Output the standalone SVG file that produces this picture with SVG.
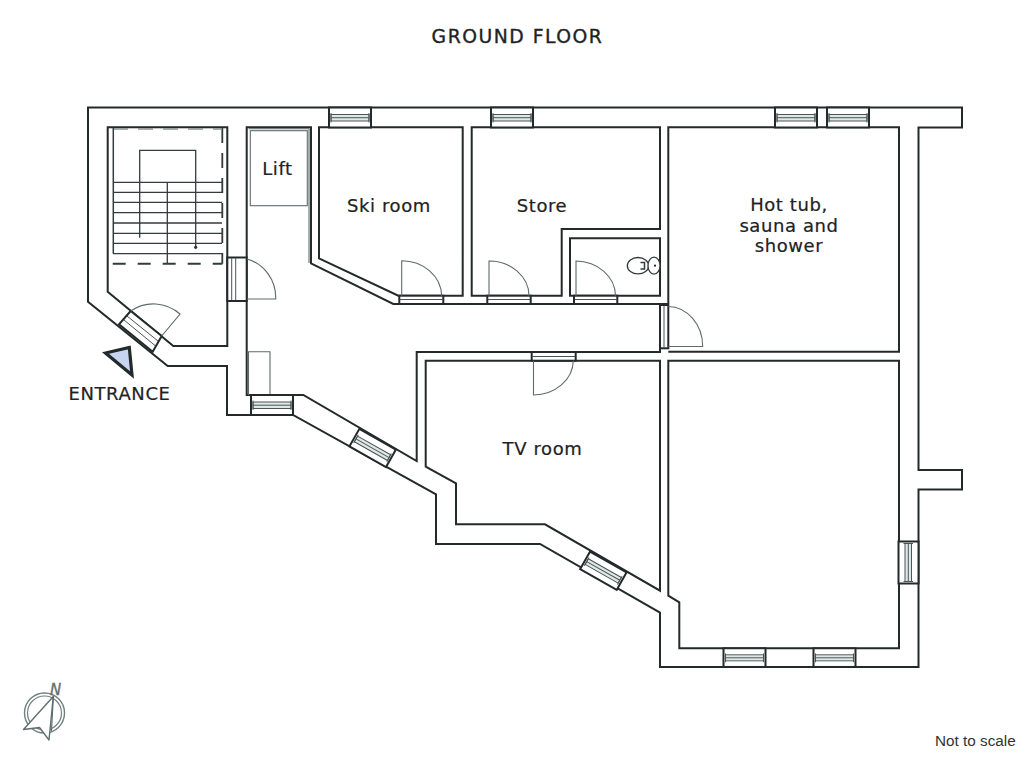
<svg xmlns="http://www.w3.org/2000/svg" width="1030" height="771" viewBox="0 0 1030 771">
<style>
.w{fill:none;stroke:#222a2a;stroke-width:2;stroke-linejoin:miter}
.t{fill:none;stroke:#5f6b6b;stroke-width:1.1}
.s{fill:none;stroke:#333c3c;stroke-width:1.3}
.l{font-family:"DejaVu Sans",sans-serif;font-size:18px;fill:#222;stroke:#222;stroke-width:.2;text-anchor:middle;letter-spacing:.6px}
.wf{fill:#fff;stroke:#222a2a;stroke-width:2}
.wi{fill:#dfe8e6;stroke:#4a5555;stroke-width:1}
.wb{fill:none;stroke:#4a5555;stroke-width:1}
.df{fill:#fff;stroke:#222a2a;stroke-width:2}
</style>
<defs>
<g id="win">
<rect class="wf" x="0" y="0" width="42" height="20"/>
<rect class="wi" x="2" y="7" width="38" height="6.5"/>
<path class="wb" d="M2 5.500V15M40 5.500V15M2 10.200H40"/>
</g>
</defs>
<rect width="1030" height="771" fill="#fff"/>
<text x="517.500" y="42.500" style="font-family:'DejaVu Sans',sans-serif;font-size:18.800px;fill:#222;stroke:#222;stroke-width:.35;text-anchor:middle;letter-spacing:1.500px">GROUND FLOOR</text>

<g id="walls">
<path class="w" d="M88 107.500H962V127.500H918.500V470H962V489.500H918.500V667H660V612.700L540 544H436V494.300L293 415H227V366H167.700L88 301.700Z"/>
<path class="w" id="stair-room" d="M107.700 127.300H227.300V346H173.300L107.700 291.700Z"/>
<path class="w" id="corridor" d="M668.300 304H393.300L311 263.300V127.300H246.700V395H303.300L416.700 461V352H660V304"/>
<path class="w" id="ski-room" d="M319 127.300H462.700V295.700H398.300L319 258.300Z"/>
<path class="w" id="store" d="M471.700 127.300H660V229H561.700V295.700H471.700Z"/>
<path class="w" id="wc" d="M570 238.300H660V295.700H570Z"/>
<path class="w" id="hot-tub" d="M668.300 304V127.300H899V351.700H668.300"/>
<path class="w" id="tv-room" d="M425.700 360.700H660V590.700L545 524.300H456V483.300L425.700 466.700Z"/>
<path class="w" id="big-room" d="M668.300 360.700H899V648.300H679.300V602.300L668.300 595.700Z"/>
</g>

<g id="stairs">
<path d="M112.700 263.700H222.300" fill="none" stroke="#333c3c" stroke-width="2" stroke-dasharray="13 12"/>
<path d="M222.300 128V263.700" fill="none" stroke="#333c3c" stroke-width="1.800" stroke-dasharray="15 10"/>
<path d="M113 129H222" fill="none" stroke="#8a9494" stroke-width="1.300" stroke-dasharray="15 10"/>
<path d="M113.300 128V253.700" fill="none" stroke="#333c3c" stroke-width="1.500"/>
<path class="s" d="M113 182.300H222M113 192.300H222M113 202.300H222M113 212.700H222M113 223H222M113 233.300H222M113 243.300H222M113 253.700H222"/>
<path class="s" d="M139.700 237.700V150.300H195.700V247.300M167.300 182.300V263.700"/>
<circle cx="195.700" cy="247.300" r="1.600" fill="#333"/>
</g>

<g id="lift">
<rect class="t" x="250.300" y="130.700" width="57" height="75"/>
<path class="t" d="M248.500 395V351.700H270V395"/>
<path class="t" d="M248.700 128.800H309V263"/>
</g>

<g id="windows">
<use href="#win" x="329" y="107.500"/>
<use href="#win" x="491" y="107.500"/>
<use href="#win" x="775" y="107.500"/>
<use href="#win" x="827" y="107.500"/>
<use href="#win" transform="translate(723.500 648.300) scale(1 .93)"/>
<use href="#win" transform="translate(813.500 648.300) scale(1 .93)"/>
<use href="#win" x="251" y="395"/>
<use href="#win" transform="translate(918.500 541.500) rotate(90)"/>
<use href="#win" transform="translate(359.300 429) rotate(29.500)"/>
<use href="#win" transform="translate(590 551.700) rotate(29.500)"/>
</g>

<g id="doors">
<g id="door-entrance">
<path class="df" d="M130.700 311L161.700 336L152.700 351.700L119 324.300Z"/>
<path class="wb" d="M127 316L158 341M124 320L155 345.500"/>
<path class="t" d="M161.700 336L180 314A40 40 0 0 0 130.700 311"/>
</g>
<g id="door-stairs">
<rect class="df" x="227.300" y="257.500" width="19.400" height="43.500"/>
<path class="wb" d="M231.700 258V300M235.700 258V300"/>
<path class="t" d="M247 259A39 40 0 0 1 275.700 299H247"/>
</g>
<g id="door-ski">
<rect class="df" x="399.300" y="295.700" width="44" height="8.300"/>
<path class="wb" d="M400 299.500H443"/>
<path class="t" d="M401.700 295.700V260.700A40 36 0 0 1 441.700 295.700"/>
</g>
<g id="door-store">
<rect class="df" x="487.300" y="295.700" width="43.400" height="8.300"/>
<path class="wb" d="M488 299.500H530"/>
<path class="t" d="M489 295.700V261A40 35 0 0 1 529 295.700"/>
</g>
<g id="door-wc">
<rect class="df" x="574" y="295.700" width="43.300" height="8.300"/>
<path class="wb" d="M575 299.500H617"/>
<path class="t" d="M576 295.700V261A40 35 0 0 1 615.500 295.700"/>
</g>
<g id="door-hot-tub">
<rect class="df" x="660" y="305" width="8.300" height="43.300"/>
<path class="wb" d="M664 306V348"/>
<path class="t" d="M668.300 306.500A35 40 0 0 1 702.700 346.500H668.300"/>
</g>
<g id="door-tv">
<rect class="df" x="531.700" y="352" width="44" height="8.700"/>
<path class="wb" d="M532 356.500H575"/>
<path class="t" d="M533.500 360.700V395A40 35 0 0 0 573.300 360.700"/>
</g>
</g>

<g id="toilet">
<ellipse class="s" cx="638" cy="265.700" rx="10.700" ry="8.200"/>
<ellipse cx="654" cy="265.700" rx="6" ry="8.500" fill="#fff" stroke="#333c3c" stroke-width="1.300"/>
<path d="M640.500 262.500H644.500V269H640.500" fill="none" stroke="#333c3c" stroke-width="1.500"/>
<circle cx="655" cy="265.700" r="1.100" fill="#222"/>
</g>

<g id="entrance-marker">
<path d="M105.500 353L129.300 347.500L132 375Z" fill="#c8d5f0" stroke="#222a2a" stroke-width="3.200" stroke-linejoin="miter"/>
</g>

<g id="labels">
<text class="l" x="277.500" y="174.500">Lift</text>
<text class="l" x="389" y="212">Ski room</text>
<text class="l" x="542" y="212">Store</text>
<text class="l" x="789" y="211">Hot tub,</text>
<text class="l" x="789" y="231.500">sauna and</text>
<text class="l" x="789" y="252">shower</text>
<text class="l" x="542.500" y="455">TV room</text>
<text class="l" x="119.500" y="400">ENTRANCE</text>
<text x="935" y="745.700" style="font-family:'Liberation Sans',sans-serif;font-size:15.300px;fill:#333">Not to scale</text>
</g>

<g id="north-arrow">
<circle cx="44.500" cy="713" r="20" fill="none" stroke="#71817f" stroke-width="1.400"/>
<circle cx="44.500" cy="713" r="17" fill="none" stroke="#71817f" stroke-width="1.200"/>
<path d="M53.300 696.500L49 740L39.500 727.500L23.500 729.500Z" fill="#fff" stroke="#5f706e" stroke-width="1.400" stroke-linejoin="round"/>
<path d="M53.300 696.500L51.500 731" fill="none" stroke="#5f706e" stroke-width="1.200"/>
<text x="50" y="694.500" style="font-family:'DejaVu Sans',sans-serif;font-size:15px;font-style:italic;fill:#5f706e;stroke:#5f706e;stroke-width:.3">N</text>
</g>
</svg>
